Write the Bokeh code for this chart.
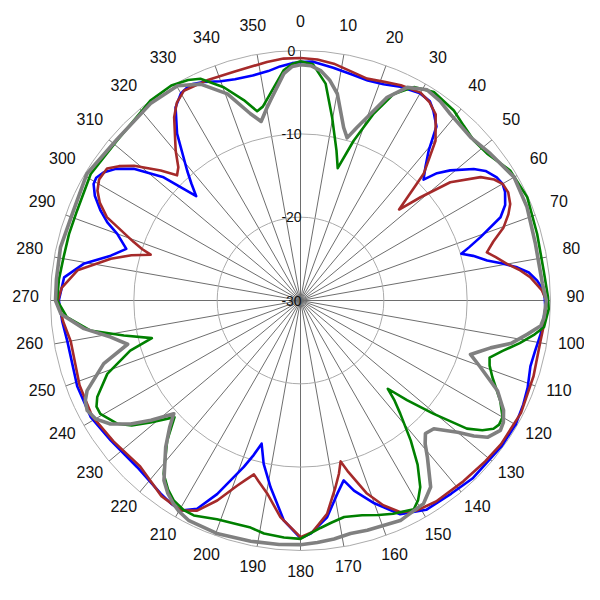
import numpy as np
from bokeh.plotting import figure
from bokeh.models import Range1d
from bokeh.core.properties import value
from bokeh.embed import file_html
from bokeh.resources import INLINE

# ---------------- data (angle in degrees clockwise from top, level in dB) -------------
R_MIN = -30.0
ring_levels = [-20, -10, 0]
ring_labels = ["-30", "-20", "-10", "0"]
ring_label_levels = [-30, -20, -10, 0]
angle_ticks = list(range(0, 360, 10))

blue = [(0, -1.4), (3, -1.3), (8, -1.8), (13, -2.2), (17, -2.4), (21, -2.2), (25, -1.7),
        (30, -1.3), (33, -1.5), (35, -2.2), (38, -3.5), (40.5, -6.3), (43, -8.0), (45.5, -9.3),
        (47, -7.6), (49, -6.2), (52.8, -3.9), (55, -2.9), (57.9, -2.2), (60, -2.0), (62, -2.2),
        (65, -2.9), (67.4, -4.0), (70.6, -7.1), (72.5, -8.8), (73.8, -9.9), (75.5, -8.6),
        (77.9, -7.1), (79.5, -5.5), (81.3, -3.7), (83, -2.4), (85.2, -1.5), (87, -1.0),
        (89, -0.7), (92, -0.6), (98, -0.9), (102, -1.2), (106, -1.3), (111, -0.8),
        (115, -0.5), (120, -0.2), (126, -0.2), (136, -0.3), (142, -0.6), (149, -0.7), (155, -1.7),
        (160, -4.1), (164.3, -6.3), (166.5, -7.8), (169.2, -6.4), (173, -3.8), (177.5, -2.0),
        (180, -1.5), (184.3, -3.5), (189.1, -7.3), (192.7, -9.9), (195.2, -12.2), (197, -10.5),
        (198.8, -8.9), (203.3, -4.7), (206.4, -2.1), (209.7, -1.0), (212.5, -1.1), (215.9, -1.4),
        (224.4, -2.0), (233.6, -1.7), (241, -1.2), (249, -1.3), (260, -1.6), (265, -1.3),
        (270, -1.0), (275.6, -1.5), (279.6, -3.6), (283.3, -6.6), (286.5, -8.2), (290, -6.6),
        (292, -5.0), (294.2, -3.7), (297, -2.3), (299.4, -1.5), (301, -1.4), (303, -1.8),
        (305.5, -2.8), (308.3, -4.5), (312, -7.9), (315, -12.3), (317, -10.8),
        (318.9, -9.3), (323.5, -5.1), (327.1, -2.4), (330, -1.3), (333, -0.9), (336, -1.3),
        (340, -2.0), (343.5, -2.3), (348, -2.4), (352, -2.2), (355, -1.8), (358, -1.5)]

brown = [(0, -0.9), (4, -1.0), (8, -1.3), (12, -1.8), (16.7, -2.2), (21, -1.9), (25, -1.5),
         (30, -1.2), (33, -1.6), (36, -2.4), (40.2, -4.9), (44.2, -8.8), (47.3, -13.9),
         (49.3, -11.0), (51.7, -7.1), (55.6, -3.8), (58, -2.6), (60, -2.0), (62.5, -1.9),
         (65.3, -2.3), (67.5, -3.0), (70.2, -4.1), (73, -5.8), (75.5, -6.9), (77.5, -6.0),
         (80, -4.8), (82, -3.5), (84.2, -2.3), (87.6, -1.0),
         (90, -0.5), (95, -0.6), (100, -0.8), (108, -0.6), (117, -0.3), (125.6, -0.4),
         (131, -0.6), (138, -0.8), (146, -0.9), (151, -1.2), (154.7, -1.9), (158, -3.5),
         (161, -5.5), (164.6, -8.8), (166, -10.1), (167.5, -8.7), (169.4, -7.2), (172.9, -4.2),
         (177, -2.2), (180, -1.6), (185.3, -3.9), (189.8, -6.5), (193, -7.7), (195, -8.4),
         (197, -7.5), (198.9, -6.5), (202.6, -4.0), (206.2, -1.9), (209.7, -1.0), (215.4, -1.2),
         (224, -2.3), (233, -1.9), (241, -1.4), (249, -1.6), (259.9, -2.0), (265, -1.4),
         (270, -0.9), (273, -1.3), (277.7, -3.0), (282.4, -6.7), (285, -9.0), (287, -11.2),
         (288, -10.0), (289.3, -8.8), (293.3, -4.7), (296, -3.2), (298.4, -2.3), (301, -1.8),
         (304.3, -1.9), (306.5, -2.9), (309, -4.3),
         (312.9, -7.1), (315.4, -8.9), (317.5, -8.3), (320.2, -6.6), (325.4, -3.3),
         (328, -2.0), (330.9, -1.2), (337, -1.3), (344, -1.4), (352, -1.1), (356, -0.9)]

green = [(0, -1.3), (3, -1.6), (6.6, -3.8), (9.8, -7.7), (13.5, -11.5), (15.7, -13.5),
         (18.4, -9.8), (21.4, -5.9), (24.3, -2.8), (28, -1.0), (32.6, -0.3), (38.9, -0.7),
         (43, -1.3), (47.3, -1.7), (51.8, -1.5), (58.2, -0.4), (65.5, -0.1), (74.3, -0.5),
         (83, -0.6), (89.2, -0.3), (92, -0.2), (96.2, -0.6), (98.2, -1.6), (101, -3.2),
         (104, -5.0), (106.8, -6.3), (109, -6.0), (111.8, -5.2), (116.6, -3.2), (120, -2.0),
         (122, -1.9), (123.6, -2.2), (125.5, -3.2), (127.6, -4.8), (130.4, -9.0), (133.1, -12.5),
         (135.3, -15.1), (136.8, -13.5), (138.6, -11.9), (141.8, -8.6), (144.5, -5.8),
         (147.3, -3.4), (149.5, -2.2), (151.5, -1.5), (156.5, -2.1), (160, -2.6), (164, -3.2),
         (168.6, -3.5), (172, -3.1), (175, -2.6), (180, -1.4), (184, -1.5), (188.9, -1.7),
         (192.4, -2.1), (195.8, -2.1), (200.9, -1.9), (206.4, -1.2), (209.1, -1.2),
         (212.4, -1.6), (215, -2.3), (218.3, -3.5), (223.6, -6.8), (227.2, -9.4), (230.9, -6.8),
         (233.5, -4.8), (236.1, -3.5), (240.5, -2.4), (242.5, -2.4), (244.6, -3.0),
         (249.2, -5.2), (253.6, -8.7), (255.8, -11.6), (258.8, -8.4), (261.9, -4.5),
         (265.9, -1.9), (270, -0.8), (275, -0.9), (280.4, -1.1), (286, -1.1), (291.9, -1.1),
         (301.1, -0.6), (311.1, -0.8), (323.1, 0.0), (329, 0.1), (333, -0.3), (335.7, -0.8),
         (340.2, -2.8), (344.2, -5.0), (347.1, -6.7), (349, -6.3), (351.7, -4.9),
         (355.8, -2.3), (358, -1.6)]

gray = [(0, -1.7), (2.5, -1.8), (5, -2.3), (7.5, -3.3), (10.1, -4.8), (14, -8.6), (16, -9.7),
        (18, -8.2), (20, -6.6), (23.1, -3.5), (26.6, -1.4), (31, -0.5), (35, -0.8), (38.8, -1.3),
        (46.2, -1.7), (52.3, -1.2), (60, -0.4), (67.6, -0.6), (76.4, -1.0), (86, -0.9),
        (90, -0.5), (94, -0.7), (96, -1.0), (98.5, -2.5), (101.5, -4.2), (104, -6.5),
        (106.3, -7.9), (107.6, -8.6), (110.3, -7.0), (114.6, -4.0), (118.4, -2.3), (121, -1.6),
        (123, -1.4), (126.2, -2.2), (128, -3.6), (130, -5.4), (133.9, -7.8), (136.8, -8.1),
        (139, -7.2), (141, -5.8), (145.1, -2.7), (148.8, -1.5), (155.6, -1.0), (163.8, -1.3),
        (167.9, -1.4), (172, -1.1), (176, -0.9), (180, -0.7), (185, -0.6), (191.7, -0.5),
        (199.5, -0.3), (207, -0.4), (210, -0.8), (211.9, -1.2), (214.5, -1.9), (217.2, -2.9),
        (222.6, -6.1), (226, -8.2), (228.2, -9.6), (231.3, -7.0), (234, -4.8), (237, -2.8),
        (240, -1.6), (242.7, -1.2), (245, -1.5), (247.1, -2.2), (252.2, -5.2), (255.8, -8.6),
        (259.1, -6.8), (262.6, -3.8), (266.8, -1.2), (270, -0.6), (275, -0.6), (282.5, -0.5),
        (291.7, -0.7), (300.7, -0.2), (311.4, -0.7), (322.7, -0.3), (330.2, -0.3),
        (335.2, -1.4), (340.5, -3.7), (345, -6.8), (347.6, -8.0), (350, -6.6), (351.5, -5.7),
        (355.8, -2.7), (358, -1.9)]

series = [(blue, "#0000FF", 2.6), (brown, "#A52A2A", 2.6), (green, "#008000", 2.6),
          (gray, "#808080", 3.6)]


def to_xy(deg, db):
    r = np.asarray(db, dtype=float) - R_MIN
    t = np.radians(np.asarray(deg, dtype=float))
    return r * np.sin(t), r * np.cos(t)


R_OUT = 0 - R_MIN                 # 30 units == outer ring (250 px)
PX = R_OUT / 250.0                # data units per pixel
W = 584
CX = 300.0                        # pole position in the figure, px

p = figure(width=W, height=W, output_backend="svg", toolbar_location=None,
           x_range=Range1d(-CX * PX, (W - CX) * PX),
           y_range=Range1d(-(W - CX) * PX, CX * PX),
           x_axis_type=None, y_axis_type=None, min_border=0)
p.outline_line_color = None
p.xgrid.visible = False
p.ygrid.visible = False
p.background_fill_color = "white"
p.border_fill_color = "white"

# spokes
sx, sy = to_xy(angle_ticks, [0] * len(angle_ticks))
p.segment(x0=0, y0=0, x1=sx, y1=sy, line_color="#6e6e6e", line_width=1)

# rings
p.circle(x=0, y=0, radius=[lv - R_MIN for lv in ring_levels], fill_color=None,
         line_color="#ababab", line_width=1)

# radial labels
p.text(x=[0] * len(ring_labels), y=[lv - R_MIN for lv in ring_label_levels], text=ring_labels,
       text_align="center", text_baseline="middle", x_offset=-9,
       text_font=value("Liberation Sans"), text_font_size="14px", text_color="#111111")

# curves
for data, color, width in series:
    deg = [d for d, _ in data] + [360]
    db = [v for _, v in data] + [data[0][1]]
    x, y = to_xy(deg, db)
    p.line(x, y, line_color=color, line_width=width, line_join="round")

# angle labels
lab_r = 275.0 * PX
lt = np.radians(angle_ticks)
p.text(x=lab_r * np.sin(lt), y=lab_r * np.cos(lt), text=[str(a) for a in angle_ticks],
       text_align="center", text_baseline="middle", y_offset=-5,
       text_font=value("Liberation Sans"), text_font_size="16px", text_color="#111111")

open("out.html", "w").write(file_html(p, INLINE))
